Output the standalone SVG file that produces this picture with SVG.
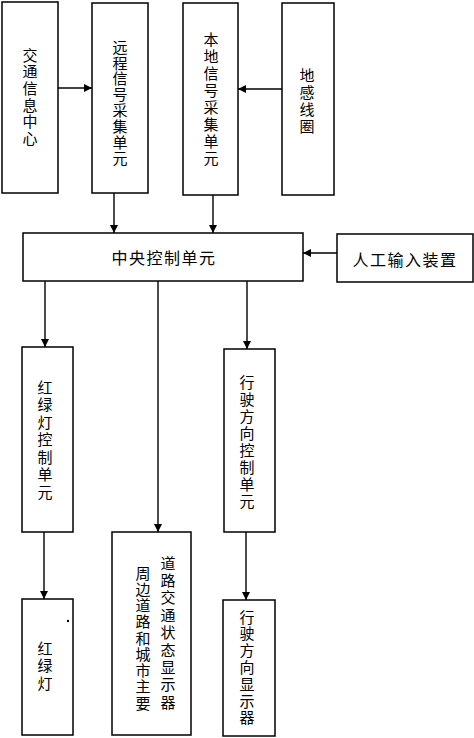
<svg xmlns="http://www.w3.org/2000/svg" width="474" height="738" viewBox="0 0 474 738">
<defs>
<marker id="arr" viewBox="0 0 10 10" refX="10" refY="5" markerWidth="8" markerHeight="8" markerUnits="userSpaceOnUse" orient="auto">
<path d="M0,0 L10,5 L0,10 z" fill="#000"/>
</marker>
</defs>
<style>
rect.b{fill:#fff;stroke:#000;stroke-width:1.5}
text{font-family:"Noto Sans CJK SC","Noto Sans CJK JP",sans-serif;font-size:15px;fill:#000;dominant-baseline:central}
text.v{writing-mode:vertical-rl;text-anchor:start}
.h{font-size:16px;letter-spacing:1.5px;text-anchor:middle}
.c line{stroke:#000;stroke-width:1.4;marker-end:url(#arr)}
</style>
<rect width="474" height="738" fill="#fff"/>
<g id="n_jtxx"><rect class="b" x="2" y="2" width="56" height="191"/>
<text class="v" x="30" y="47.5" letter-spacing="1.7">交通信息中心</text></g>
<g id="n_yc"><rect class="b" x="92" y="3" width="56" height="190"/>
<text class="v" x="120" y="39.5" letter-spacing="0.9">远程信号采集单元</text></g>
<g id="n_bd"><rect class="b" x="183" y="3" width="55" height="192"/>
<text class="v" x="211" y="31.5" letter-spacing="2.1">本地信号采集单元</text></g>
<g id="n_dg"><rect class="b" x="282" y="3" width="52" height="192"/>
<text class="v" x="307" y="67.5" letter-spacing="2">地感线圈</text></g>
<g id="n_zy"><rect class="b" x="23" y="233" width="280" height="48"/>
<text class="h" x="164" y="257">中央控制单元</text></g>
<g id="n_rg"><rect class="b" x="337" y="234" width="136" height="48"/>
<text class="h" x="405" y="259">人工输入装置</text></g>
<g id="n_hlk"><rect class="b" x="22" y="347" width="51" height="185"/>
<text class="v" x="45" y="379.5" letter-spacing="2.5">红绿灯控制单元</text></g>
<g id="n_xsk"><rect class="b" x="224" y="349" width="51" height="183"/>
<text class="v" x="247" y="374.5" letter-spacing="2.1">行驶方向控制单元</text></g>
<g id="n_dl"><rect class="b" x="112" y="532" width="79" height="203"/>
<text class="v" x="168" y="555.5" letter-spacing="2.4">道路交通状态显示器</text>
<text class="v" x="143" y="565.5" letter-spacing="1.25">周边道路和城市主要</text></g>
<g id="n_hld"><rect class="b" x="22" y="599" width="51" height="136"/>
<circle cx="68" cy="621" r="1.2" fill="#000"/>
<text class="v" x="45" y="640.5" letter-spacing="2.5">红绿灯</text></g>
<g id="n_xsx"><rect class="b" x="223" y="600" width="52" height="136"/>
<text class="v" x="247" y="609.5" letter-spacing="1.8">行驶方向显示器</text></g>
<g id="connectors" class="c">
<line x1="58" y1="88" x2="92" y2="88"/>
<line x1="282" y1="89" x2="238" y2="89"/>
<line x1="114" y1="193" x2="114" y2="233"/>
<line x1="213" y1="195" x2="213" y2="233"/>
<line x1="337" y1="253" x2="303" y2="253"/>
<line x1="45" y1="281" x2="45" y2="347"/>
<line x1="158" y1="281" x2="158" y2="532"/>
<line x1="247" y1="281" x2="247" y2="349"/>
<line x1="44" y1="532" x2="44" y2="599"/>
<line x1="246" y1="532" x2="246" y2="600"/>
</g>
</svg>
